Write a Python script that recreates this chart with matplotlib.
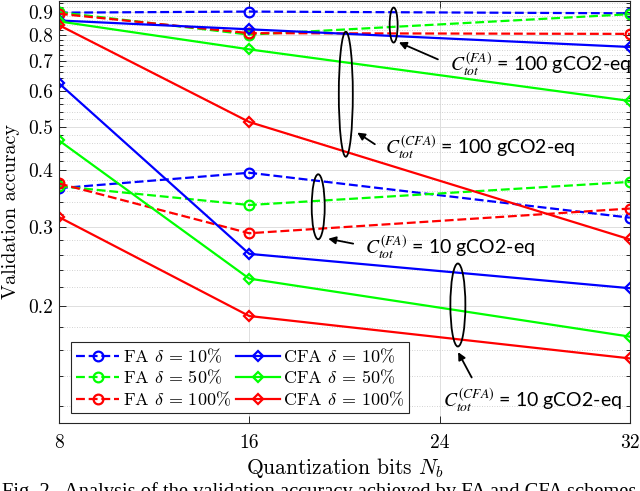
import numpy as np
import matplotlib
matplotlib.use('Agg')
import matplotlib.pyplot as plt
from matplotlib.patches import Ellipse
from matplotlib.transforms import ScaledTranslation
from matplotlib.ticker import FixedLocator, FixedFormatter, NullLocator

plt.rcParams['font.family'] = 'cmr10'
plt.rcParams['mathtext.fontset'] = 'cm'
plt.rcParams['axes.unicode_minus'] = False
plt.rcParams['axes.formatter.use_mathtext'] = True

# ---------------- data ----------------
bits = [8, 16, 32]
# C_tot = 100 gCO2-eq
fa10_c100 = [0.895, 0.900, 0.892]
fa50_c100 = [0.897, 0.800, 0.888]
fa100_c100 = [0.890, 0.806, 0.803]
cfa10_c100 = [0.860, 0.822, 0.751]
cfa50_c100 = [0.856, 0.742, 0.570]
cfa100_c100 = [0.840, 0.512, 0.281]
# C_tot = 10 gCO2-eq
fa10_c10 = [0.365, 0.395, 0.314]
fa50_c10 = [0.369, 0.335, 0.377]
fa100_c10 = [0.374, 0.290, 0.329]
cfa10_c10 = [0.624, 0.261, 0.219]
cfa50_c10 = [0.466, 0.230, 0.171]
cfa100_c10 = [0.315, 0.190, 0.153]

labels_fa = [r'FA $\delta\,=\,10\%$', r'FA $\delta\,=\,50\%$', r'FA $\delta\,=\,100\%$']
labels_cfa = [r'CFA $\delta\,=\,10\%$', r'CFA $\delta\,=\,50\%$', r'CFA $\delta\,=\,100\%$']
colors = ['#0000ff', '#00ff00', '#ff0000']

ytick_vals = [0.2, 0.3, 0.4, 0.5, 0.6, 0.7, 0.8, 0.9]
ytick_labels = ['0.2', '0.3', '0.4', '0.5', '0.6', '0.7', '0.8', '0.9']
xtick_vals = [8, 16, 24, 32]

fig = plt.figure(figsize=(6.4, 4.91), dpi=100)
ax = fig.add_axes([0.092, 0.1385, 0.8922, 0.8595])
ax.set_yscale('log')

lw = 1.6
fa_kw = dict(ls=(0, (4, 1.7)), lw=lw, marker='o', ms=7, mfc='none', mew=1.6)
cfa_kw = dict(ls='-', lw=lw, marker='D', ms=5.5, mfc='none', mew=1.6)

fa_high = [fa10_c100, fa50_c100, fa100_c100]
fa_low = [fa10_c10, fa50_c10, fa100_c10]
cfa_high = [cfa10_c100, cfa50_c100, cfa100_c100]
cfa_low = [cfa10_c10, cfa50_c10, cfa100_c10]

handles = []
for vals, lab, c in zip(fa_high, labels_fa, colors):
    h, = ax.plot(bits, vals, color=c, mec=c, label=lab, **fa_kw)
    handles.append(h)
for vals, c in zip(fa_low, colors):
    ax.plot(bits, vals, color=c, mec=c, **fa_kw)
for vals, lab, c in zip(cfa_high, labels_cfa, colors):
    h, = ax.plot(bits, vals, color=c, mec=c, label=lab, **cfa_kw)
    handles.append(h)
for vals, c in zip(cfa_low, colors):
    ax.plot(bits, vals, color=c, mec=c, **cfa_kw)

ax.set_xlim(8, 32)
ax.set_ylim(0.11, 0.95)
ax.set_xticks(xtick_vals)
ax.set_xticklabels([str(v) for v in xtick_vals])
ax.xaxis.set_minor_locator(NullLocator())
ax.yaxis.set_major_locator(FixedLocator(ytick_vals))
ax.yaxis.set_major_formatter(FixedFormatter(ytick_labels))
minor = [round(v, 2) for v in np.arange(0.12, 0.95, 0.02) if round(v, 2) not in ytick_vals]
ax.yaxis.set_minor_locator(FixedLocator(minor))
ax.yaxis.set_minor_formatter(FixedFormatter([''] * len(minor)))

ax.tick_params(which='both', direction='in', top=True, right=True, labelsize=14,
               color='#262626', width=0.7)
ax.tick_params(which='major', length=5)
ax.tick_params(which='minor', length=3)
ax.tick_params(axis='x', pad=8)
ax.tick_params(axis='y', pad=4)
for s in ax.spines.values():
    s.set_color('#262626')
    s.set_linewidth(0.8)

ax.grid(which='major', color='#dedede', lw=0.7, ls='-')
ax.grid(which='minor', color='#c4c4c4', lw=0.6, ls=(0, (1, 2)))
ax.set_axisbelow(True)

ax.set_xlabel(r'Quantization bits $N_b$', fontsize=15.5, labelpad=3)
ax.set_ylabel('Validation accuracy', fontsize=14.5, labelpad=6)

leg = ax.legend(handles=handles, ncol=2, loc='lower left', bbox_to_anchor=(0.022, 0.024),
                borderaxespad=0, fontsize=13, handlelength=2.4, handletextpad=0.2,
                columnspacing=0.3, labelspacing=0.18, borderpad=0.25, fancybox=False,
                framealpha=1, edgecolor='#262626', numpoints=1)
leg.get_frame().set_linewidth(0.8)

# ---------------- annotations ----------------
def ell(x, y, w_px, h_px):
    tr = fig.dpi_scale_trans + ScaledTranslation(x, y, ax.transData)
    e = Ellipse((0, 0), w_px / 100, h_px / 100, fill=False, ec='black', lw=1.3, transform=tr,
                zorder=5)
    ax.add_patch(e)

ell(22.07, 0.840, 8, 35)
ell(20.06, 0.590, 14, 125)
ell(18.90, 0.332, 13, 65)
ell(24.77, 0.201, 15, 83)

arrow_kw = dict(arrowstyle='-|>', color='black', lw=1.3, mutation_scale=11, shrinkA=0, shrinkB=0)
ax.annotate('', xy=(22.29, 0.769), xytext=(23.93, 0.705), arrowprops=arrow_kw)
ax.annotate('', xy=(20.54, 0.485), xytext=(21.28, 0.457), arrowprops=arrow_kw)
ax.annotate('', xy=(19.32, 0.282), xytext=(20.37, 0.275), arrowprops=arrow_kw)
ax.annotate('', xy=(24.78, 0.158), xytext=(25.35, 0.1388), arrowprops=arrow_kw)

tkw = dict(fontsize=14, family='Lato', math_fontfamily='stix', ha='left', va='center')
ax.text(24.43, 0.684, r'$C_{tot}^{(FA)}$ = 100 gCO2-eq', **tkw)
ax.text(21.70, 0.448, r'$C_{tot}^{(CFA)}$ = 100 gCO2-eq', **tkw)
ax.text(20.86, 0.2686, r'$C_{tot}^{(FA)}$ = 10 gCO2-eq', **tkw)
ax.text(24.15, 0.1232, r'$C_{tot}^{(CFA)}$ = 10 gCO2-eq', **tkw)

fig.text(0.003, 1 - 482 / 491, 'Fig. 2.  Analysis of the validation accuracy achieved by FA and CFA schemes',
         family='Liberation Serif', fontsize=14.8, va='top', ha='left')

fig.savefig('out.png', dpi=100)
